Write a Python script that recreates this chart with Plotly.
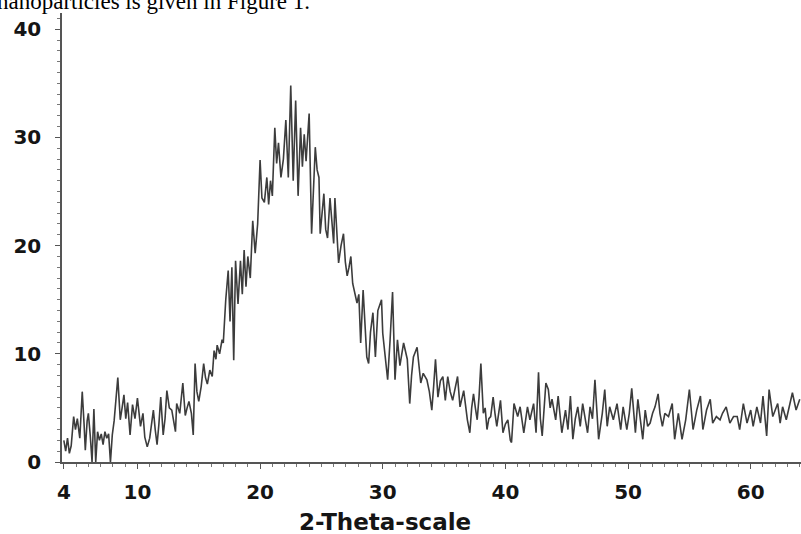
import plotly.graph_objects as go

two_theta = [
    4.0, 4.15, 4.3, 4.45, 4.6, 4.8, 4.95, 5.1, 5.3, 5.5, 5.65, 5.75, 5.9, 6.0, 6.15, 6.3, 6.45, 6.6,
    6.75, 6.9, 7.05, 7.2, 7.35, 7.5, 7.65, 7.8, 7.95, 8.1, 8.4, 8.6, 8.75, 8.9, 9.05, 9.2, 9.4, 9.6,
    9.8, 10.0, 10.25, 10.45, 10.6, 10.8, 11.0, 11.15, 11.3, 11.45, 11.6, 11.75, 11.9, 12.1, 12.25,
    12.4, 12.6, 12.8, 13.0, 13.1, 13.2, 13.45, 13.7, 13.9, 14.05, 14.2, 14.4, 14.55, 14.7, 14.85,
    15.0, 15.2, 15.4, 15.55, 15.7, 15.9, 16.1, 16.25, 16.4, 16.5, 16.7, 16.9, 17.0, 17.2, 17.4,
    17.55, 17.7, 17.85, 18.0, 18.2, 18.4, 18.55, 18.7, 18.85, 19.0, 19.2, 19.4, 19.6, 19.8, 20.0,
    20.15, 20.35, 20.55, 20.7, 20.85, 21.0, 21.2, 21.35, 21.5, 21.7, 21.9, 22.1, 22.3, 22.5, 22.7,
    22.9, 23.1, 23.3, 23.45, 23.6, 23.75, 23.9, 24.0, 24.2, 24.35, 24.5, 24.65, 24.8, 24.9, 25.05,
    25.2, 25.35, 25.5, 25.7, 25.85, 26.0, 26.1, 26.25, 26.4, 26.6, 26.8, 26.95, 27.1, 27.25, 27.4,
    27.55, 27.75, 27.9, 28.05, 28.2, 28.4, 28.55, 28.7, 28.85, 29.0, 29.2, 29.4, 29.6, 29.9, 30.0,
    30.2, 30.4, 30.6, 30.8, 31.0, 31.2, 31.4, 31.55, 31.7, 32.0, 32.2, 32.35, 32.5, 32.8, 33.1,
    33.3, 33.6, 33.8, 34.0, 34.15, 34.3, 34.5, 34.7, 34.9, 35.1, 35.3, 35.5, 35.7, 35.9, 36.1,
    36.3, 36.6, 36.9, 37.1, 37.25, 37.4, 37.55, 37.7, 37.85, 38.0, 38.2, 38.35, 38.5, 38.65, 38.8,
    39.0, 39.15, 39.3, 39.45, 39.6, 39.8, 40.0, 40.2, 40.4, 40.5, 40.7, 41.0, 41.2, 41.5, 41.8,
    42.0, 42.3, 42.5, 42.7, 42.85, 43.0, 43.3, 43.5, 43.65, 43.8, 44.1, 44.3, 44.6, 44.9, 45.1,
    45.3, 45.5, 45.7, 45.9, 46.1, 46.3, 46.5, 46.7, 46.9, 47.1, 47.3, 47.6, 47.9, 48.1, 48.3,
    48.5, 48.8, 49.1, 49.4, 49.6, 49.9, 50.1, 50.3, 50.6, 50.8, 51.0, 51.2, 51.4, 51.6, 51.8,
    52.0, 52.2, 52.45, 52.6, 52.8, 53.0, 53.3, 53.6, 53.8, 54.1, 54.4, 54.7, 55.0, 55.3, 55.6,
    55.9, 56.1, 56.4, 56.7, 56.9, 57.2, 57.5, 57.7, 58.0, 58.3, 58.6, 58.9, 59.1, 59.4, 59.7,
    60.0, 60.2, 60.5, 60.8, 61.0, 61.3, 61.5, 61.8, 62.2, 62.4, 62.6, 62.9, 63.2, 63.4, 63.7, 64.0,
]

intensity = [
    2.0, 1.0, 2.2, 0.8, 1.5, 4.2, 3.0, 4.0, 2.2, 6.5, 3.5, 1.1, 3.8, 4.5, 2.5, 0.0, 4.9, 0.0,
    2.8, 2.0, 2.6, 1.6, 2.8, 2.2, 2.6, 0.0, 2.5, 3.8, 7.8, 3.9, 5.0, 6.2, 4.0, 5.5, 2.5, 5.3,
    4.0, 5.9, 3.3, 4.5, 2.3, 1.4, 2.2, 3.5, 4.8, 3.0, 1.6, 3.5, 6.0, 2.5, 4.0,
    6.6, 5.0, 4.8, 3.5, 2.8, 5.4, 4.5, 7.3, 4.3, 5.0, 5.6, 4.5, 2.5, 9.1, 6.5,
    5.6, 7.0, 9.1, 7.8, 7.2, 8.5, 7.9, 10.3, 9.5, 10.8, 10.0, 11.3, 11.0, 15.0, 17.7,
    13.0, 18.0, 9.4, 18.6, 14.6, 18.6, 15.5, 19.6, 16.2, 19.0, 17.0, 22.3, 19.3, 22.0, 27.9,
    24.4, 24.0, 26.3, 23.8, 26.0, 24.6, 30.9, 27.6, 29.5, 26.3, 28.0, 31.6, 26.3, 34.8, 26.0,
    33.4, 24.6, 30.9, 27.3, 30.3, 27.8, 30.0, 32.2, 21.1, 26.0, 29.1, 27.0, 26.3, 21.1, 23.0,
    24.8, 21.5, 20.7, 24.4, 22.0, 20.2, 24.4, 21.0, 18.4, 20.0, 21.1, 18.5, 17.2, 18.0, 19.0,
    16.5, 15.5, 14.7, 15.5, 11.0, 15.9, 13.0, 9.7, 9.1, 12.0, 13.8, 9.7, 14.0, 15.0, 11.9,
    10.0, 7.6, 11.3, 15.7, 7.6, 11.3, 8.9, 10.0, 11.0, 9.5, 5.4, 8.0, 9.7, 10.6, 7.3,
    8.2, 7.6, 6.5, 4.8, 7.0, 9.5, 6.0, 7.5, 7.9, 5.7, 7.9, 6.5, 5.7, 7.0, 7.9,
    5.1, 6.6, 3.9, 2.7, 5.0, 6.3, 5.0, 3.9, 6.0, 9.1, 4.5, 5.0, 3.0, 4.0, 4.2,
    6.0, 4.5, 3.3, 4.5, 5.7, 2.7, 3.5, 3.9, 2.0, 1.8, 5.4, 4.2, 5.1, 2.7, 5.1,
    3.9, 5.4, 2.7, 8.3, 4.0, 2.4, 7.3, 6.7, 5.0, 5.8, 3.9, 6.1, 2.7, 4.8, 3.0,
    6.1, 2.1, 4.0, 5.1, 3.3, 5.4, 4.0, 2.7, 5.1, 4.0, 7.6, 2.1, 4.5, 6.7, 3.3,
    5.1, 3.9, 5.4, 3.0, 5.1, 3.0, 4.5, 6.8, 2.7, 5.8, 4.0, 2.1, 4.8, 3.3, 3.6,
    4.5, 5.1, 6.3, 4.5, 3.3, 4.5, 4.2, 5.4, 2.1, 4.5, 2.1, 3.9, 6.7, 3.0, 4.8,
    6.1, 3.0, 4.8, 5.8, 3.6, 4.2, 3.9, 4.5, 5.1, 3.6, 4.2, 4.2, 3.0, 5.4, 3.6,
    4.8, 3.3, 5.1, 3.6, 6.1, 2.4, 6.7, 4.2, 5.4, 3.6, 5.1, 3.9, 5.4, 6.4, 4.8, 5.8,
]

x_tick_vals = [4, 10, 20, 30, 40, 50, 60]
x_tick_text = ["4", "10", "20", "30", "40", "50", "60"]
y_tick_vals = [0, 10, 20, 30, 40]
y_tick_text = ["0", "10", "20", "30", "40"]

x_title = "2-Theta-scale"
caption = "nanoparticles is given in Figure 1."

tick_font = dict(family="DejaVu Sans", size=20, color="#151515", weight="bold")

fig = go.Figure()
fig.add_trace(go.Scatter(
    x=two_theta, y=intensity, mode="lines",
    line=dict(color="#3c3c3c", width=1.6),
    showlegend=False, hoverinfo="skip",
))

fig.update_layout(
    width=801, height=534,
    margin=dict(l=62, r=0, t=13, b=72),
    paper_bgcolor="white", plot_bgcolor="white",
    xaxis=dict(
        range=[3.85, 64.1], showgrid=False, zeroline=False,
        showline=True, linecolor="#555555", linewidth=1.5,
        tickmode="array", tickvals=x_tick_vals, ticktext=x_tick_text,
        ticks="outside", ticklen=5, tickcolor="#555555", tickwidth=1,
        minor=dict(tickmode="linear", tick0=0, dtick=1, ticks="outside", ticklen=3, tickcolor="#777777"),
        tickfont=tick_font, ticklabelstandoff=6,
    ),
    yaxis=dict(
        range=[0, 41.5], showgrid=False, zeroline=False,
        showline=True, linecolor="#555555", linewidth=1.5,
        tickmode="array", tickvals=y_tick_vals, ticktext=y_tick_text,
        ticks="outside", ticklen=5, tickcolor="#555555", tickwidth=1,
        minor=dict(tickmode="linear", tick0=0, dtick=1, ticks="outside", ticklen=3, tickcolor="#777777"),
        tickfont=tick_font, ticklabelstandoff=10,
    ),
    annotations=[
        dict(text=x_title, xref="x", x=30.2, yref="paper", y=-0.1336,
             xanchor="center", yanchor="middle", showarrow=False,
             font=dict(family="DejaVu Sans", size=23, color="#151515", weight="bold")),
        dict(text=caption, xref="paper", x=-0.091, yref="paper", y=1,
             xanchor="left", yanchor="bottom", yshift=-3, showarrow=False,
             font=dict(family="Liberation Serif", size=23, color="#000000")),
    ],
)

fig.write_html(
    "out.html",
    config={"displayModeBar": False},
    post_script="document.body.style.margin='0';document.body.style.overflow='hidden';",
)
